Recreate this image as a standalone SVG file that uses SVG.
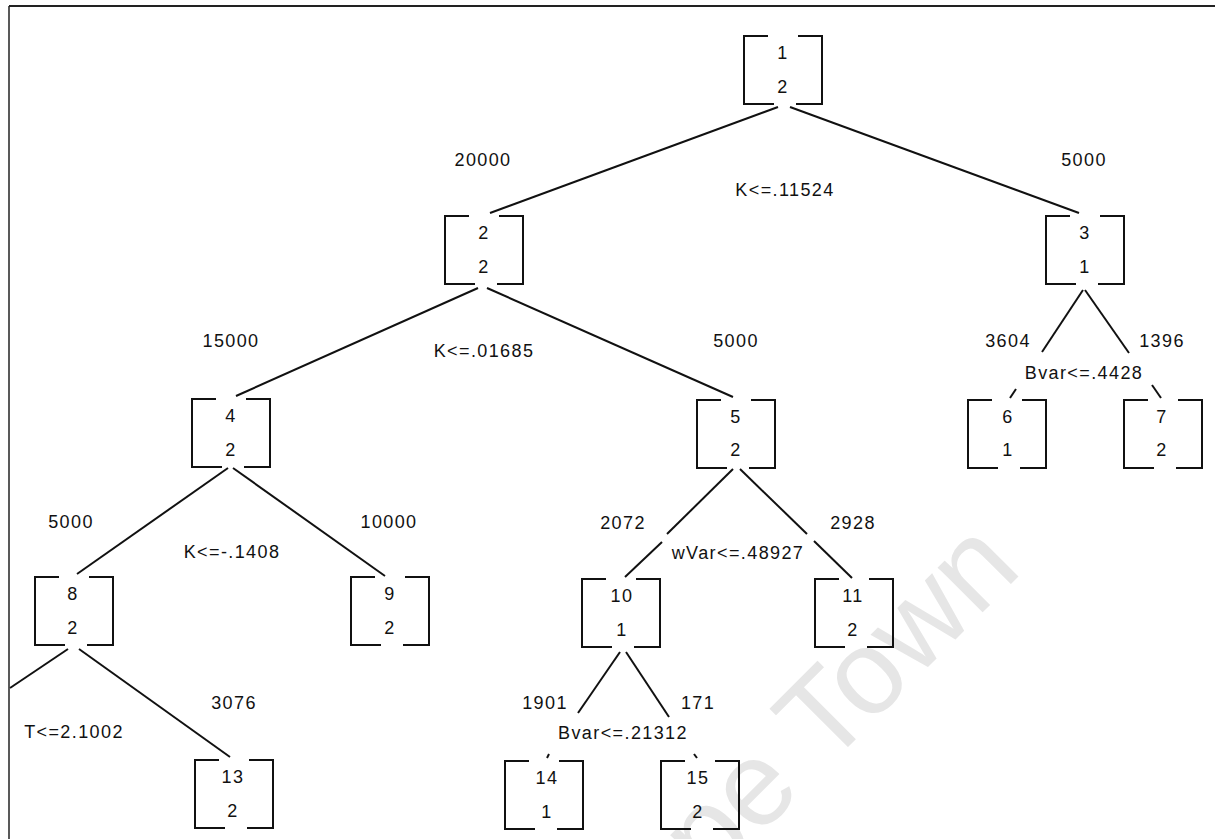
<svg xmlns="http://www.w3.org/2000/svg" xmlns:xlink="http://www.w3.org/1999/xlink" width="1215" height="839" viewBox="0 0 1215 839">
<style>
.t{font-family:"Liberation Sans",Arial,sans-serif;font-size:18px;letter-spacing:1.4px;fill:#111;text-anchor:middle}
.br{fill:none;stroke:#111;stroke-width:2}
.e{stroke:#111;stroke-width:2;fill:none}
.frame{stroke:#222;fill:none}
.wm{font-family:"Liberation Sans",Arial,sans-serif;font-size:120px;fill:#e6e6e6}
</style>
<defs>
<path id="br" class="br" d="M24,0H0V68H30M52,68H78V0H54"/>
</defs>
<rect x="0" y="0" width="1215" height="839" fill="#fff"/>
<text class="wm" x="601" y="994" transform="rotate(-45 601 994)">Cape Town</text>
<g id="frame">
<line class="frame" x1="9" y1="6" x2="1215" y2="6" stroke-width="2"/>
<line class="frame" x1="9" y1="6" x2="9" y2="839" stroke-width="1.5"/>
</g>
<g id="connectors">
<line class="e" x1="778" y1="107" x2="490" y2="213"/>
<line class="e" x1="790" y1="107" x2="1079" y2="213"/>
<line class="e" x1="478" y1="288" x2="236" y2="396"/>
<line class="e" x1="487" y1="288" x2="733" y2="397"/>
<line class="e" x1="1083" y1="290" x2="1042" y2="352"/>
<line class="e" x1="1016" y1="389" x2="1010" y2="398"/>
<line class="e" x1="1085" y1="290" x2="1129" y2="353"/>
<line class="e" x1="1152" y1="385" x2="1161" y2="398"/>
<line class="e" x1="228" y1="468" x2="77" y2="574"/>
<line class="e" x1="233" y1="468" x2="385" y2="576"/>
<line class="e" x1="733" y1="469" x2="667" y2="534"/>
<line class="e" x1="662" y1="542" x2="625" y2="577"/>
<line class="e" x1="740" y1="469" x2="807" y2="534"/>
<line class="e" x1="814" y1="541" x2="852" y2="578"/>
<line class="e" x1="68" y1="649" x2="10" y2="688"/>
<line class="e" x1="79" y1="649" x2="230" y2="757"/>
<line class="e" x1="620" y1="652" x2="578" y2="713"/>
<line class="e" x1="549" y1="754" x2="547" y2="758"/>
<line class="e" x1="626" y1="652" x2="669" y2="717"/>
<line class="e" x1="694" y1="754" x2="697" y2="758"/>
</g>
<g id="edge-labels">
<text class="t" x="483" y="166">20000</text>
<text class="t" x="1084" y="166">5000</text>
<text class="t" x="785" y="196">K&lt;=.11524</text>
<text class="t" x="231" y="347">15000</text>
<text class="t" x="736" y="347">5000</text>
<text class="t" x="484" y="357">K&lt;=.01685</text>
<text class="t" x="1008" y="347">3604</text>
<text class="t" x="1162" y="347">1396</text>
<text class="t" x="1084" y="379">Bvar&lt;=.4428</text>
<text class="t" x="71" y="528">5000</text>
<text class="t" x="232" y="558">K&lt;=-.1408</text>
<text class="t" x="389" y="528">10000</text>
<text class="t" x="623" y="529">2072</text>
<text class="t" x="738" y="559">wVar&lt;=.48927</text>
<text class="t" x="853" y="529">2928</text>
<text class="t" x="234" y="709">3076</text>
<text class="t" x="74" y="738">T&lt;=2.1002</text>
<text class="t" x="545" y="709">1901</text>
<text class="t" x="698" y="709">171</text>
<text class="t" x="623" y="739">Bvar&lt;=.21312</text>
</g>
<g id="node1"><use href="#br" x="744" y="36"/><text class="t" x="783" y="59">1</text><text class="t" x="783" y="93">2</text></g>
<g id="node2"><use href="#br" x="445" y="216"/><text class="t" x="484" y="239">2</text><text class="t" x="484" y="273">2</text></g>
<g id="node3"><use href="#br" x="1046" y="216"/><text class="t" x="1085" y="239">3</text><text class="t" x="1085" y="273">1</text></g>
<g id="node4"><use href="#br" x="192" y="399"/><text class="t" x="231" y="422">4</text><text class="t" x="231" y="456">2</text></g>
<g id="node5"><use href="#br" x="697" y="400"/><text class="t" x="736" y="423">5</text><text class="t" x="736" y="456">2</text></g>
<g id="node6"><use href="#br" x="968" y="400"/><text class="t" x="1008" y="423">6</text><text class="t" x="1008" y="456">1</text></g>
<g id="node7"><use href="#br" x="1124" y="400"/><text class="t" x="1162" y="423">7</text><text class="t" x="1162" y="456">2</text></g>
<g id="node8"><use href="#br" x="35" y="577"/><text class="t" x="73" y="600">8</text><text class="t" x="73" y="634">2</text></g>
<g id="node9"><use href="#br" x="351" y="577"/><text class="t" x="390" y="600">9</text><text class="t" x="390" y="634">2</text></g>
<g id="node10"><use href="#br" x="582" y="579"/><text class="t" x="622" y="602">10</text><text class="t" x="622" y="636">1</text></g>
<g id="node11"><use href="#br" x="815" y="579"/><text class="t" x="853" y="602">11</text><text class="t" x="853" y="636">2</text></g>
<g id="node13"><use href="#br" x="195" y="760"/><text class="t" x="233" y="783">13</text><text class="t" x="233" y="817">2</text></g>
<g id="node14"><use href="#br" x="505" y="761"/><text class="t" x="547" y="784">14</text><text class="t" x="547" y="818">1</text></g>
<g id="node15"><use href="#br" x="661" y="761"/><text class="t" x="698" y="784">15</text><text class="t" x="698" y="818">2</text></g>
</svg>
